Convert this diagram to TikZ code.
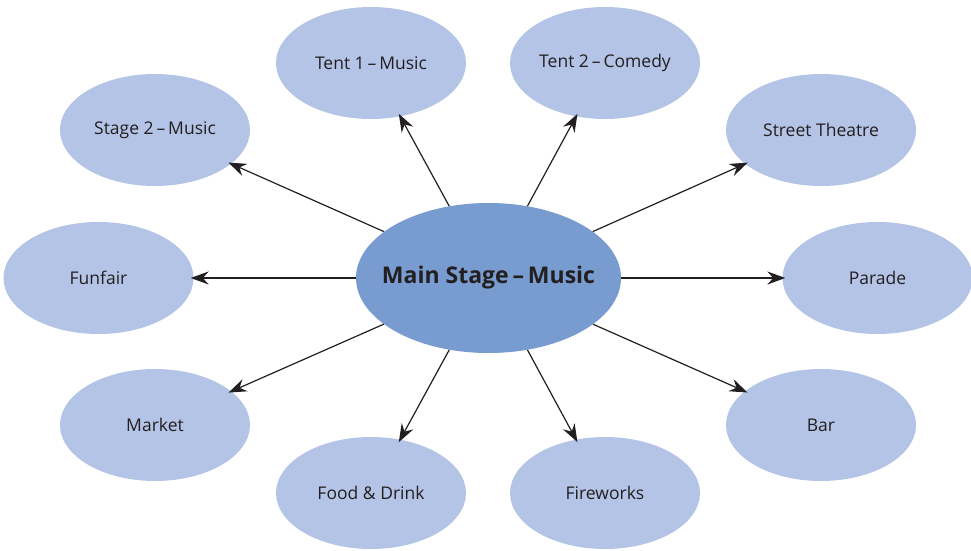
\documentclass[tikz,border=0pt]{standalone}
\usepackage{fontspec}
\setmainfont{Open Sans}
\usetikzlibrary{arrows.meta,shapes.geometric}
\definecolor{outerblue}{RGB}{180,196,230}
\definecolor{mainblue}{RGB}{120,155,208}
\definecolor{txt}{RGB}{35,31,32}
\newcommand{\cbox}[1]{\makebox[0pt]{#1}}
\tikzset{
  leaf/.style={ellipse, fill=outerblue, draw=none, minimum width=190pt, minimum height=112pt, inner sep=0pt, text=txt, font=\fontsize{17.5}{20}\selectfont},
  hub/.style={ellipse, fill=mainblue, draw=none, minimum width=265pt, minimum height=150pt, inner sep=0pt, text=txt, font=\fontsize{23}{26}\selectfont\bfseries},
  link/.style={draw=txt, line width=1.2pt, -{Stealth[length=18pt,width=13pt,inset=6pt]}, shorten >=-3pt}
}
\begin{document}
\begin{tikzpicture}[x=1pt,y=-1pt]
\useasboundingbox (0,0) rectangle (971,551);
\node[hub] (main) at (488.5,278) {\cbox{Main Stage\,–\,Music}};
\node[leaf] (tent1) at (371,63) {\cbox{Tent 1\,–\,Music}};
\node[leaf] (tent2) at (605,63) {\cbox{Tent 2\,–\,Comedy}};
\node[leaf] (stage2) at (155,130) {\cbox{Stage 2\,–\,Music}};
\node[leaf] (street) at (821,130) {\cbox{Street Theatre}};
\node[leaf] (funfair) at (98.5,278) {\cbox{Funfair}};
\node[leaf] (parade) at (877.5,278) {\cbox{Parade}};
\node[leaf] (market) at (155,425) {\cbox{Market}};
\node[leaf] (bar) at (821,425) {\cbox{Bar}};
\node[leaf] (food) at (371,493) {\cbox{Food \& Drink}};
\node[leaf] (fire) at (605,493) {\cbox{Fireworks}};
\foreach \t in {tent1,tent2,stage2,street,funfair,parade,market,bar,food,fire}
  \draw[link] (main) -- (\t);
\end{tikzpicture}
\end{document}
